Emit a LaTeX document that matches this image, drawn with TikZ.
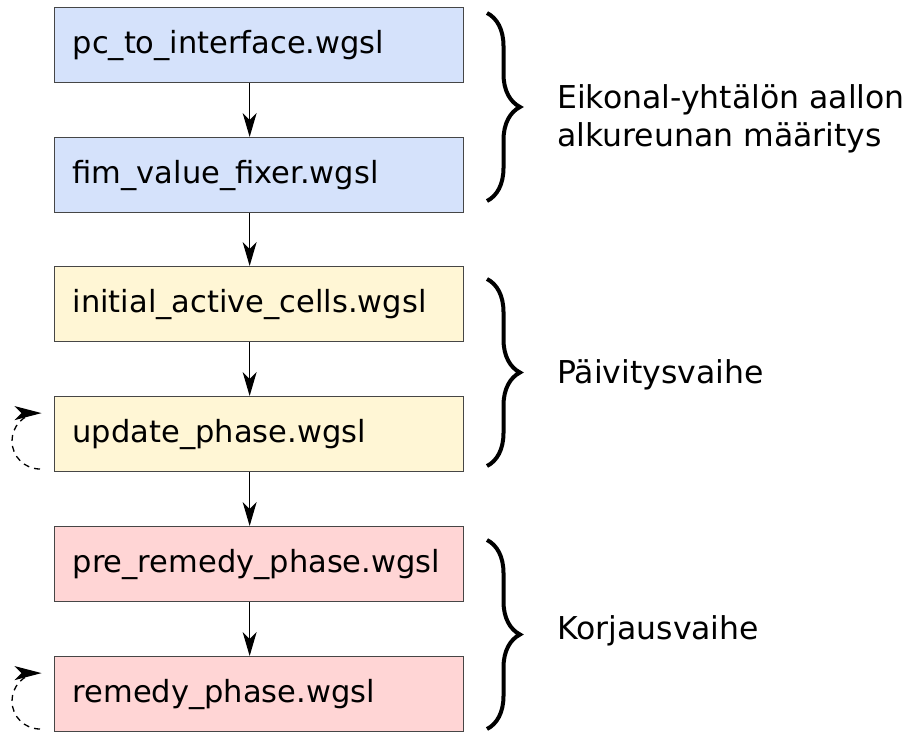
\documentclass[tikz,border=0pt]{standalone}
\usepackage{fontspec}
\setmainfont{DejaVu Sans}
\usetikzlibrary{arrows.meta,decorations.pathreplacing}
\definecolor{cblue}{RGB}{213,226,251}
\definecolor{cyellow}{RGB}{255,246,213}
\definecolor{cpink}{RGB}{255,213,213}
\definecolor{cborder}{RGB}{70,70,70}
\begin{document}
\begin{tikzpicture}[x=1pt,y=-1pt,
  box/.style={draw=cborder,line width=1.3pt,minimum width=409pt,minimum height=75pt,
    text width=373pt,align=left,inner sep=18pt,anchor=north west,
    font=\fontsize{30.5}{36}\selectfont},
  flow/.style={-{Stealth[length=24pt,width=14pt,inset=7pt]},line width=1.3pt},
  loop/.style={dashed,dash pattern=on 6pt off 5pt,line width=1.3pt,-{Stealth[length=27pt,width=14pt,inset=7pt]}},
  br/.style={decorate,decoration={brace,amplitude=33pt,aspect=0.5},line width=4pt},
  lab/.style={anchor=west,align=left,font=\fontsize{31.5}{38}\selectfont,inner sep=0pt}]
\useasboundingbox (0,0) rectangle (910,733);
\begin{scope}
\clip (0,0) rectangle (910,733);
\node[box,fill=cblue] (b1) at (54,7) {pc\_to\_interface.wgsl};
\node[box,fill=cblue] (b2) at (54,137) {fim\_value\_fixer.wgsl};
\node[box,fill=cyellow] (b3) at (54,266) {initial\_active\_cells.wgsl};
\node[box,fill=cyellow] (b4) at (54,396) {update\_phase.wgsl};
\node[box,fill=cpink] (b5) at (54,526) {pre\_remedy\_phase.wgsl};
\node[box,fill=cpink] (b6) at (54,656) {remedy\_phase.wgsl};
\end{scope}
\draw[flow] ([xshift=-9.5pt]b1.south) -- ([xshift=-9.5pt]b2.north);
\draw[flow] ([xshift=-9.5pt]b2.south) -- ([xshift=-9.5pt]b3.north);
\draw[flow] ([xshift=-9.5pt]b3.south) -- ([xshift=-9.5pt]b4.north);
\draw[flow] ([xshift=-9.5pt]b4.south) -- ([xshift=-9.5pt]b5.north);
\draw[flow] ([xshift=-9.5pt]b5.south) -- ([xshift=-9.5pt]b6.north);
% self loops
\coordinate (l4s) at (40,469);
\coordinate (l6s) at (40,729);
\draw[loop] (l4s) arc[start angle=90,end angle=265,radius=28] -- ++(4,0);
\draw[loop] (l6s) arc[start angle=90,end angle=265,radius=28] -- ++(4,0);
% braces
\coordinate (a1) at (487,13); \coordinate (a2) at (487,201);
\coordinate (c1) at (487,279); \coordinate (c2) at (487,466);
\coordinate (d1) at (487,540); \coordinate (d2) at (487,729);
\draw[br] (a1) -- (a2);
\draw[br] (c1) -- (c2);
\draw[br] (d1) -- (d2);
\node[lab] (t1) at (557,119) {Eikonal-yhtälön aallon\\alkureunan määritys};
\node[lab] (t2) at (557,375) {Päivitysvaihe};
\node[lab] (t3) at (557,631) {Korjausvaihe};
\end{tikzpicture}
\end{document}
